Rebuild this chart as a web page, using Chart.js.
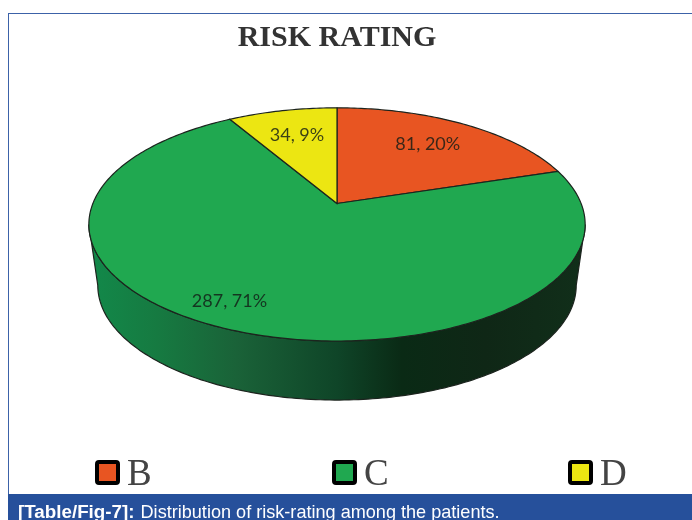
<!DOCTYPE html>
<html>
<head>
<meta charset="utf-8">
<title>Risk rating</title>
<script src="https://cdn.jsdelivr.net/npm/chart.js@4/dist/chart.umd.min.js"></script>
<style>
    html, body { margin: 0; background: #fff; overflow: hidden; }
    #page { position: relative; width: 692px; height: 520px; overflow: hidden; }
    #frame { position: absolute; left: 8px; top: 13px; width: 684px; height: 481px;
             border-top: 1px solid #3c62a8; border-left: 1px solid #3c62a8; box-sizing: border-box; }
    #risk-chart { position: absolute; left: 0; top: 0; }
    #risk-legend { position: absolute; left: 0; top: 454px; width: 692px; height: 36px; }
    .legend-item { position: absolute; top: 0; display: flex; align-items: center; height: 36px;
                   font: 37px "Liberation Serif", serif; color: #444; }
    .legend-box { width: 17px; height: 17px; border: 4px solid #000; border-radius: 4px; margin-right: 7px; }
    #caption { position: absolute; left: 8px; top: 494px; width: 684px; height: 26px; background: #26509b;
               color: #fff; font: 18.1px/36px "Liberation Sans", sans-serif; padding-left: 10px;
               box-sizing: border-box; overflow: hidden; white-space: nowrap; }
    #caption strong { font-size: 18.8px; margin-right: 1px; }
</style>
</head>
<body>
<div id="page">
    <div id="frame"></div>
    <canvas id="risk-chart" width="674" height="494"></canvas>
    <div id="risk-legend"></div>
    <div id="caption"><strong>[Table/Fig-7]:</strong> Distribution of risk-rating among the patients.</div>
</div>
<script>
// --- Data ---
const categories = ['B', 'C', 'D'];
const patientCounts = [81, 287, 34];
const percentLabels = ['20%', '71%', '9%'];

// --- Styles ---
const sliceColors = ['#e85522', '#20a850', '#ece612'];
const outlineColor = '#1c241e';
const labelShift = [[-1, -1], [-38, 14], [0, 0]]; // best-fit nudges for the slice labels
const legendLeft = [95, 332, 568];

// Disc geometry, relative to the radius Chart.js gives the pie
const tilt = { rimX: 1.655, rimY: 0.765, perspective: 0.1795 };
const wall = { shrinkX: 0.964, shrinkY: 0.983, rimCentre: 21, drop: 61 };
const labelRadius = 0.7;

/**
 * Projects a point of the flat pie onto the tilted disc.
 * Angle is the one Chart.js uses, so -PI/2 is twelve o'clock.
 */
const projectPoint = (arc, angle, radius = 1) => {
    const x = Math.cos(angle) * radius;
    const y = Math.sin(angle) * radius;
    const w = 1 - tilt.perspective * y;
    return {
        x: arc.x + arc.outerRadius * tilt.rimX * x / w,
        y: arc.y + arc.outerRadius * tilt.rimY * y / w
    };
};

// Same rim point, moved to the underside of the disc
const projectBelow = (arc, angle) => {
    const p = projectPoint(arc, angle);
    const centreY = arc.y + wall.rimCentre;
    return {
        x: arc.x + (p.x - arc.x) * wall.shrinkX,
        y: centreY + wall.drop + (p.y - centreY) * wall.shrinkY
    };
};

const traceRim = (ctx, arc, from, to, project = projectPoint, moveFirst = false) => {
    const steps = Math.max(2, Math.ceil(Math.abs(to - from) * 60));
    for (let i = 0; i <= steps; i++) {
        const p = project(arc, from + (to - from) * i / steps);
        if (i === 0 && moveFirst) ctx.moveTo(p.x, p.y);
        else ctx.lineTo(p.x, p.y);
    }
};

const drawWall = (ctx, chart, arc) => {
    // The rim turns out of sight where the perspective puts its widest points
    const edge = Math.asin(tilt.perspective);
    const from = Math.max(arc.startAngle, edge);
    const to = Math.min(arc.endAngle, Math.PI - edge);
    if (to <= from) return;

    const left = arc.x - arc.outerRadius * tilt.rimX * 1.02;
    const right = arc.x + arc.outerRadius * tilt.rimX * 1.02;
    const shade = ctx.createLinearGradient(left, 0, right, 0);
    shade.addColorStop(0, '#12894a');
    shade.addColorStop(0.14, '#167a41');
    shade.addColorStop(0.3, '#1a6238');
    shade.addColorStop(0.5, '#0f4528');
    shade.addColorStop(0.63, '#0a2a15');
    shade.addColorStop(0.8, '#0f2716');
    shade.addColorStop(1, '#112f1a');

    ctx.beginPath();
    traceRim(ctx, arc, from, to, projectPoint, true);
    traceRim(ctx, arc, to, from, projectBelow);
    ctx.closePath();
    ctx.fillStyle = shade;
    ctx.fill();
    ctx.strokeStyle = outlineColor;
    ctx.lineWidth = 1.2;
    ctx.stroke();
};

const drawFace = (ctx, arc, color) => {
    ctx.beginPath();
    ctx.moveTo(arc.x, arc.y);
    traceRim(ctx, arc, arc.startAngle, arc.endAngle);
    ctx.closePath();
    ctx.fillStyle = color;
    ctx.fill();
    ctx.strokeStyle = outlineColor;
    ctx.lineWidth = 1.2;
    ctx.stroke();
};

const drawLabel = (ctx, arc, index) => {
    const mid = (arc.startAngle + arc.endAngle) / 2;
    const p = projectPoint(arc, mid, labelRadius);
    ctx.font = '18px Lato';
    ctx.textAlign = 'center';
    ctx.textBaseline = 'middle';
    ctx.fillStyle = 'rgba(18, 28, 22, 0.82)';
    ctx.fillText(`${patientCounts[index]}, ${percentLabels[index]}`,
        p.x + labelShift[index][0], p.y + labelShift[index][1]);
};

// Replaces the flat pie drawing with the tilted disc
const tiltedPie = {
    id: 'tiltedPie',
    beforeDatasetDraw(chart, args) {
        const ctx = chart.ctx;
        const arcs = args.meta.data.map(el =>
            el.getProps(['x', 'y', 'startAngle', 'endAngle', 'outerRadius'], true));
        ctx.save();
        arcs.forEach(arc => drawWall(ctx, chart, arc));
        arcs.forEach((arc, i) => drawFace(ctx, arc, sliceColors[i]));
        arcs.forEach((arc, i) => drawLabel(ctx, arc, i));
        ctx.restore();
        return false;
    }
};

// Legend sits in the page so its entries can be spread across the full width
const renderLegend = (chart) => {
    const legendEl = document.getElementById('risk-legend');
    const items = chart.options.plugins.legend.labels.generateLabels(chart);
    items.forEach((item, i) => {
        const entry = document.createElement('div');
        entry.className = 'legend-item';
        entry.style.left = `${legendLeft[i]}px`;
        entry.innerHTML = `<span class="legend-box" style="background:${item.fillStyle}"></span>${item.text}`;
        legendEl.appendChild(entry);
    });
};

const riskChart = new Chart(document.getElementById('risk-chart'), {
    type: 'pie',
    data: {
        labels: categories,
        datasets: [{
            data: patientCounts,
            backgroundColor: sliceColors,
            borderWidth: 0,
            hoverOffset: 0
        }]
    },
    options: {
        responsive: false,
        animation: false,
        events: [],
        layout: { padding: { bottom: 143 } },
        plugins: {
            legend: { display: false },
            tooltip: { enabled: false },
            title: {
                display: true,
                text: 'RISK RATING',
                color: '#333',
                font: { family: '"Liberation Serif"', size: 30, weight: 'bold', lineHeight: 1.2 },
                padding: { top: 20, bottom: 0 }
            }
        }
    },
    plugins: [tiltedPie]
});

renderLegend(riskChart);
</script>
</body>
</html>
